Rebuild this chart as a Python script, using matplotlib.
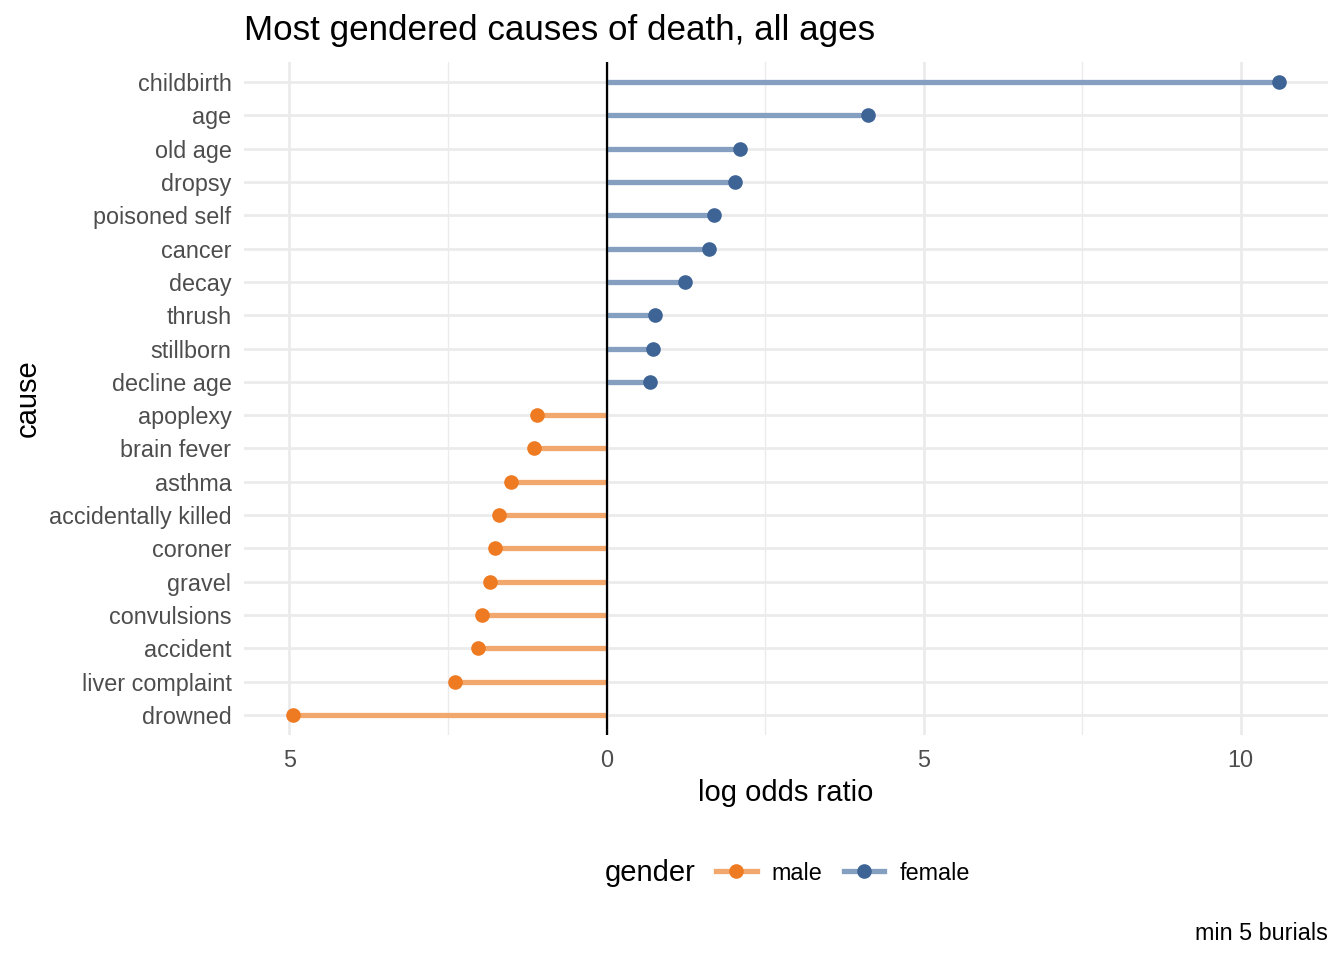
import matplotlib
matplotlib.use("Agg")
import matplotlib.pyplot as plt
from matplotlib.lines import Line2D
from matplotlib.ticker import FuncFormatter, MultipleLocator
import numpy as np

plt.rcParams['font.family'] = ['Liberation Sans', 'DejaVu Sans']

causes = ["childbirth", "age", "old age", "dropsy", "poisoned self", "cancer",
          "decay", "thrush", "stillborn", "decline age", "apoplexy", "brain fever",
          "asthma", "accidentally killed", "coroner", "gravel", "convulsions",
          "accident", "liver complaint", "drowned"]
log_odds = [10.6, 4.13, 2.11, 2.03, 1.70, 1.61, 1.23, 0.76, 0.74, 0.68,
            -1.10, -1.15, -1.50, -1.70, -1.76, -1.84, -1.97, -2.02, -2.39, -4.94]
gender = ["female"] * 10 + ["male"] * 10

point_colors = {"male": "#EE7A22", "female": "#3E6496"}
seg_colors = {"male": "#F2A86C", "female": "#859FC0"}

W, H = 1344, 960
fig = plt.figure(figsize=(W / 100, H / 100), dpi=100)
ax = fig.add_axes([244 / W, 1 - 735 / H, (1328 - 244) / W, (735 - 62) / H])

n = len(causes)
ypos = np.arange(n)[::-1]

for y, v, g in zip(ypos, log_odds, gender):
    ax.plot([0, v], [y, y], color=seg_colors[g], lw=3.8, solid_capstyle='butt', zorder=3)
    ax.plot([v], [y], 'o', color=point_colors[g], ms=9.5, zorder=4)

ax.axvline(0, color='black', lw=1.6, zorder=3.5)

xmin, xmax = min(log_odds), max(log_odds)
pad = 0.05 * (xmax - xmin)
ax.set_xlim(xmin - pad, xmax + pad)
ax.set_ylim(-0.6, n - 1 + 0.6)

ax.set_yticks(ypos)
ax.set_yticklabels(causes)
ax.xaxis.set_major_locator(MultipleLocator(5))
ax.xaxis.set_minor_locator(MultipleLocator(2.5))
ax.xaxis.set_major_formatter(FuncFormatter(lambda v, p: f"{abs(v):g}"))

ax.grid(True, which='major', axis='both', color='#EBEBEB', lw=2.0, zorder=0)
ax.grid(True, which='minor', axis='x', color='#EBEBEB', lw=1.0, zorder=0)
ax.set_axisbelow(True)
for s in ax.spines.values():
    s.set_visible(False)
ax.tick_params(which='both', length=0, labelsize=16.8, labelcolor='#4D4D4D')
ax.tick_params(axis='y', pad=9)
ax.tick_params(axis='x', pad=10)

ax.set_xlabel("log odds ratio", fontsize=21, labelpad=5)
ax.set_ylabel("cause", fontsize=21, labelpad=5)
ax.set_title("Most gendered causes of death, all ages", fontsize=25.2, loc='left', pad=16)

# legend
fig.text(605 / W, 1 - 873 / H, "gender", fontsize=21, ha='left', va='center')
handles = [Line2D([0], [0], color=seg_colors[g], lw=3.8, marker='o', ms=9.5,
                  markerfacecolor=point_colors[g], markeredgecolor=point_colors[g])
           for g in ["male", "female"]]
fig.legend(handles, ["male", "female"], loc='center left',
           bbox_to_anchor=(695 / W, 1 - 873 / H), ncol=2, frameon=False,
           fontsize=16.8, handlelength=1.75, handletextpad=0.64, columnspacing=0.9)

fig.text(1328 / W, 1 - 934 / H, "min 5 burials", fontsize=16.8, ha='right', va='center')

fig.savefig("out.png", dpi=100, facecolor='white')
